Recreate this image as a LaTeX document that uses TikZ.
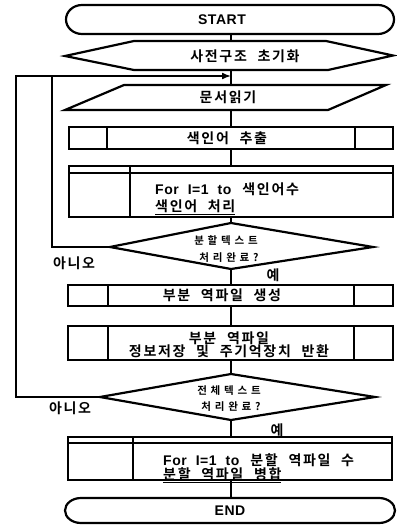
\documentclass[tikz,border=0pt]{standalone}
\usepackage{fontspec}
\usetikzlibrary{arrows.meta}
\IfFontExistsTF{Noto Sans CJK KR Bold}{%
  \newfontfamily\kr{Noto Sans CJK KR Bold}[LetterSpace=12,WordSpace=2.2]
  \newfontfamily\krd{Noto Sans CJK KR Bold}[LetterSpace=36]
}{%
  \newfontfamily\kr{Noto Sans CJK KR}[LetterSpace=12,WordSpace=2.2,FakeBold=3]
  \newfontfamily\krd{Noto Sans CJK KR}[LetterSpace=36,FakeBold=3]
}
\newfontfamily\lat{Liberation Sans}[WordSpace=2,LetterSpace=4]
\begin{document}
\begin{tikzpicture}[x=1pt,y=-1pt,line join=miter,
  outl/.style={draw=black,line width=2.2pt},
  thinl/.style={draw=black,line width=1.2pt},
  flow/.style={draw=black,line width=1.6pt},
  lab/.style={font=\kr\fontsize{14}{16}\selectfont,inner sep=0pt},
  dlab/.style={font=\krd\fontsize{10.5}{12}\selectfont,inner sep=0pt},
  term/.style={font=\lat\bfseries\fontsize{14}{16}\selectfont,inner sep=0pt}]
\useasboundingbox (0,0) rectangle (396,527);
% START
\draw[outl] (82,5) -- (378,5) arc[start angle=-90,end angle=90,x radius=16,y radius=14.5]
  -- (82,34) arc[start angle=90,end angle=270,x radius=16,y radius=14.5] -- cycle;
\node[term] (start) at (222,19.5) {START};
\coordinate (startb) at (231,34);
% hexagon
\draw[outl] (65,56) -- (134,41) -- (326,41) -- (393,55.5) -- (328,70) -- (134,70) -- cycle;
\node[lab] (init) at (245,56) {사전구조 초기화};
\coordinate (hext) at (231,41);
\coordinate (hexb) at (231,70);
\coordinate (join) at (231,76);
% parallelogram
\draw[outl] (65,110) -- (124,85) -- (386,85) -- (328,110) -- cycle;
\node[lab] (read) at (228,97.5) {문서읽기};
\coordinate (part) at (231,85);
\coordinate (parb) at (231,110);
% box 1
\draw[outl] (69,127) rectangle (393,149);
\draw[outl] (107,127) -- (107,149) (355,127) -- (355,149);
\node[lab] (ext) at (227,138) {색인어 추출};
\coordinate (b1t) at (231,127);
\coordinate (b1b) at (231,149);
% for box 1
\draw[outl] (69,166) rectangle (393,217);
\draw[thinl] (69,173) -- (393,173);
\draw[outl] (130,166) -- (130,217);
\node[lab,anchor=west] (for1a) at (155,189) {{\lat\bfseries\fontsize{14}{16}\selectfont For I=1 to}\hspace{11pt}색인어수};
\node[lab,anchor=west] (for1b) at (155,207) {\underline{색인어 처리}};
\coordinate (f1t) at (231,166);
\coordinate (f1b) at (231,217);
% diamond 1
\draw[outl] (231,223) -- (373,247) -- (231,269) -- (110,247) -- cycle;
\node[dlab] (d1a) at (226,241) {분할텍스트};
\node[dlab] (d1b) at (229,258) {처리완료?};
\coordinate (d1t) at (231,223);
\coordinate (d1b) at (231,269);
\coordinate (d1w) at (110,247);
\node[lab] (no1) at (74,263) {아니오};
\node[lab] (yes1) at (273,275) {예};
% box 3
\draw[outl] (68,285) rectangle (393,306);
\draw[outl] (108,285) -- (108,306) (354,285) -- (354,306);
\node[lab] (part1) at (222,295.5) {부분 역파일 생성};
\coordinate (b3t) at (231,285);
\coordinate (b3b) at (231,306);
% box 4
\draw[outl] (68,326) rectangle (393,360);
\draw[outl] (108,326) -- (108,360) (354,326) -- (354,360);
\node[lab] (save1) at (229,338) {부분 역파일};
\node[lab] (save2) at (229,352) {\underline{정보저장 및 주기억장치 반환}};
\coordinate (b4t) at (231,326);
\coordinate (b4b) at (231,360);
% diamond 2
\draw[outl] (231,374) -- (375,397) -- (231,420) -- (100,397) -- cycle;
\node[dlab] (d2a) at (229,391) {전체텍스트};
\node[dlab] (d2b) at (231,407) {처리완료?};
\coordinate (d2t) at (231,374);
\coordinate (d2b) at (231,420);
\coordinate (d2w) at (100,397);
\node[lab] (no2) at (70,408) {아니오};
\node[lab] (yes2) at (277,430) {예};
% for box 2
\draw[outl] (68,437) rectangle (392,480);
\draw[thinl] (68,443) -- (392,443);
\draw[outl] (133,437) -- (133,480);
\node[lab,anchor=west] (for2a) at (163,460) {{\lat\bfseries\fontsize{14}{16}\selectfont For I=1 to}\hspace{11pt}분할 역파일 수};
\node[lab,anchor=west] (for2b) at (163,475) {\underline{분할 역파일 병합}};
\coordinate (f2t) at (231,437);
\coordinate (f2b) at (231,480);
% END
\draw[outl] (81,498) -- (379,498) arc[start angle=-90,end angle=90,x radius=16,y radius=12.5]
  -- (81,523) arc[start angle=90,end angle=270,x radius=16,y radius=12.5] -- cycle;
\node[term] (end) at (230,510.5) {END};
\coordinate (endt) at (231,498);
% connectors
\draw[flow] (startb) -- (hext);
\draw[flow] (hexb) -- (part);
\draw[flow] (parb) -- (b1t);
\draw[flow] (b1b) -- (f1t);
\draw[flow] (f1b) -- (d1t);
\draw[flow] (d1b) -- (b3t);
\draw[flow] (b3b) -- (b4t);
\draw[flow] (b4b) -- (d2t);
\draw[flow] (d2b) -- (f2t);
\draw[flow] (f2b) -- (endt);
% loops
\draw[flow,-{Latex[length=9pt,width=7pt]}] (d2w) -- (16,397) -- (16,76) -- (join);
\draw[flow] (d1w) -- (52,247) -- (52,76);
\end{tikzpicture}
\end{document}
